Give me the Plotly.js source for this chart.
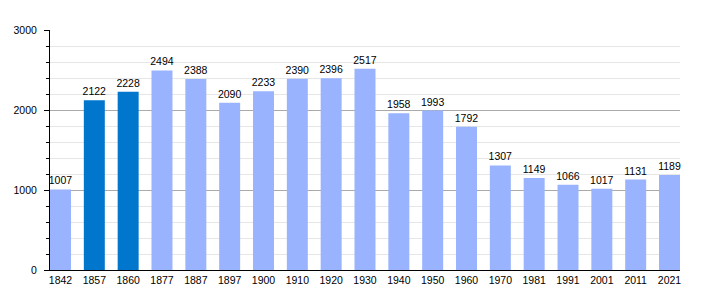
<!DOCTYPE html>
<html><head><meta charset="utf-8">
<script src="https://cdn.plot.ly/plotly-3.0.1.min.js"></script>
<style>html,body{margin:0;padding:0;background:#fff}#c{width:710px;height:300px}</style>
</head><body><div id="c"></div>
<script>
const years = ["1842","1857","1860","1877","1887","1897","1900","1910","1920","1930","1940","1950","1960","1970","1981","1991","2001","2011","2021"];
const population = [1007,2122,2228,2494,2388,2090,2233,2390,2396,2517,1958,1993,1792,1307,1149,1066,1017,1131,1189];
const highlighted = ["1857","1860"];
const colors = years.map(y => highlighted.includes(y) ? "#0077cc" : "#99b3ff");
const FONT = "Liberation Sans, Arial, sans-serif";

Plotly.newPlot("c", [{
  type: "bar",
  x: years,
  y: population,
  marker: {color: colors},
  width: 0.62,
  text: population.map(String),
  textposition: "outside",
  constraintext: "none",
  textfont: {family: FONT, size: 10.5, color: "#000"},
  cliponaxis: false,
  hoverinfo: "x+y"
}], {
  width: 710, height: 300,
  margin: {l: 50, r: 30, t: 30, b: 30},
  paper_bgcolor: "#fff", plot_bgcolor: "#fff",
  font: {family: FONT, size: 10.5, color: "#000"},
  showlegend: false,
  xaxis: {
    type: "category",
    range: [-0.31, 18.31],
    showline: true, linecolor: "#000", linewidth: 1,
    ticks: "", showgrid: false,
    tickfont: {size: 10.5}
  },
  yaxis: {
    range: [0, 3000],
    dtick: 1000,
    showline: true, linecolor: "#000", linewidth: 1,
    ticks: "outside", ticklen: 5, tickcolor: "#000",
    ticklabelstandoff: 5,
    gridcolor: "#aaaaaa", gridwidth: 1,
    zeroline: false,
    tickfont: {size: 10.5},
    minor: {dtick: 200, showgrid: true, gridcolor: "#e6e6e6", ticks: "outside", ticklen: 3, tickcolor: "#000"}
  }
}, {displayModeBar: false, staticPlot: true});
</script></body></html>
